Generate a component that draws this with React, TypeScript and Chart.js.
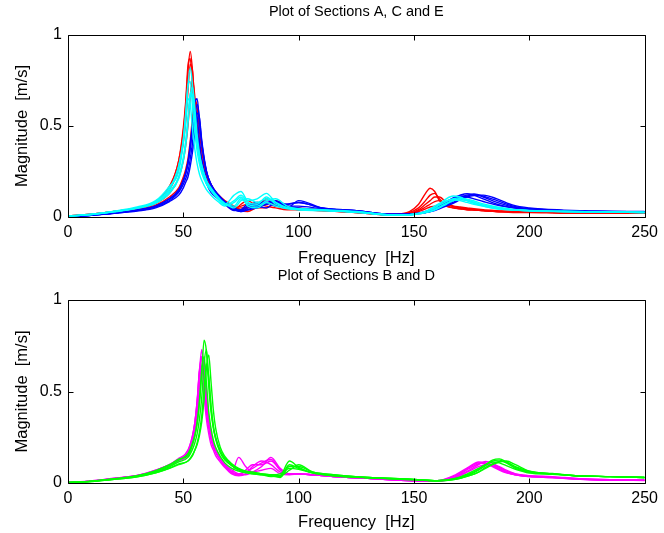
import React, { useEffect, useRef } from "react";
import { Chart, registerables } from "chart.js";

Chart.register(...registerables);

const FONT = '"Liberation Sans", Arial, Helvetica, sans-serif';

// ---------- Top plot: frequency grid (Hz) ----------
const freqTop = [0, 10, 20, 30, 38, 44, 48, 50, 51, 52, 53, 54, 55, 56, 57, 58, 60, 62, 65, 68, 72, 75, 78, 82, 86, 90, 95, 100, 110, 125, 140, 148, 152, 155, 157, 159, 161, 164, 167, 170, 173, 176, 180, 186, 193, 200, 215, 230, 250];

// Section A (red)
const sectionA1 = [0.005, 0.015, 0.03, 0.05, 0.08, 0.16, 0.31, 0.47, 0.61, 0.80, 0.91, 0.80, 0.61, 0.47, 0.37, 0.31, 0.23, 0.18, 0.12, 0.08, 0.05, 0.06, 0.07, 0.05, 0.08, 0.06, 0.05, 0.045, 0.04, 0.03, 0.015, 0.03, 0.07, 0.13, 0.158, 0.14, 0.09, 0.06, 0.05, 0.045, 0.04, 0.04, 0.035, 0.03, 0.03, 0.03, 0.025, 0.025, 0.02];
const sectionA2 = [0.005, 0.015, 0.03, 0.05, 0.085, 0.17, 0.31, 0.49, 0.63, 0.83, 0.87, 0.71, 0.54, 0.42, 0.34, 0.28, 0.21, 0.16, 0.11, 0.07, 0.04, 0.07, 0.09, 0.06, 0.10, 0.07, 0.05, 0.04, 0.035, 0.025, 0.012, 0.025, 0.05, 0.09, 0.12, 0.13, 0.10, 0.065, 0.05, 0.045, 0.04, 0.038, 0.035, 0.03, 0.028, 0.028, 0.025, 0.022, 0.02];
const sectionA3 = [0.004, 0.012, 0.025, 0.04, 0.065, 0.11, 0.16, 0.22, 0.26, 0.32, 0.42, 0.55, 0.65, 0.60, 0.47, 0.36, 0.23, 0.17, 0.12, 0.085, 0.05, 0.04, 0.06, 0.08, 0.07, 0.09, 0.06, 0.05, 0.04, 0.03, 0.015, 0.02, 0.04, 0.07, 0.09, 0.11, 0.11, 0.08, 0.06, 0.05, 0.045, 0.04, 0.035, 0.03, 0.03, 0.03, 0.025, 0.025, 0.02];
const sectionA4 = [0.005, 0.014, 0.028, 0.045, 0.075, 0.13, 0.215, 0.31, 0.39, 0.50, 0.66, 0.75, 0.66, 0.50, 0.39, 0.31, 0.215, 0.165, 0.12, 0.08, 0.045, 0.05, 0.05, 0.07, 0.06, 0.05, 0.04, 0.04, 0.035, 0.025, 0.012, 0.02, 0.035, 0.055, 0.07, 0.085, 0.09, 0.075, 0.055, 0.05, 0.045, 0.04, 0.035, 0.03, 0.025, 0.025, 0.02, 0.02, 0.02];
const sectionA5 = [0.005, 0.015, 0.03, 0.05, 0.08, 0.15, 0.27, 0.41, 0.52, 0.69, 0.84, 0.80, 0.61, 0.47, 0.37, 0.30, 0.22, 0.17, 0.125, 0.09, 0.06, 0.035, 0.03, 0.05, 0.05, 0.08, 0.05, 0.04, 0.035, 0.025, 0.01, 0.02, 0.03, 0.045, 0.055, 0.06, 0.065, 0.07, 0.06, 0.055, 0.05, 0.045, 0.04, 0.035, 0.03, 0.03, 0.025, 0.02, 0.02];

// Section C (blue)
const sectionC1 = [0.004, 0.01, 0.022, 0.038, 0.06, 0.10, 0.15, 0.20, 0.24, 0.30, 0.38, 0.49, 0.63, 0.65, 0.52, 0.40, 0.25, 0.18, 0.125, 0.085, 0.04, 0.03, 0.05, 0.07, 0.08, 0.06, 0.07, 0.08, 0.05, 0.035, 0.015, 0.015, 0.02, 0.03, 0.04, 0.05, 0.065, 0.085, 0.105, 0.12, 0.128, 0.12, 0.10, 0.07, 0.05, 0.04, 0.035, 0.03, 0.028];
const sectionC2 = [0.004, 0.01, 0.022, 0.038, 0.06, 0.10, 0.145, 0.20, 0.24, 0.29, 0.38, 0.50, 0.59, 0.55, 0.42, 0.32, 0.21, 0.15, 0.11, 0.075, 0.04, 0.035, 0.06, 0.08, 0.07, 0.09, 0.06, 0.06, 0.045, 0.03, 0.012, 0.012, 0.018, 0.025, 0.032, 0.04, 0.05, 0.07, 0.09, 0.11, 0.12, 0.125, 0.11, 0.08, 0.055, 0.045, 0.035, 0.03, 0.028];
const sectionC3 = [0.003, 0.01, 0.02, 0.035, 0.055, 0.09, 0.135, 0.18, 0.21, 0.25, 0.32, 0.41, 0.54, 0.62, 0.54, 0.41, 0.25, 0.18, 0.12, 0.085, 0.05, 0.03, 0.04, 0.06, 0.09, 0.07, 0.05, 0.09, 0.05, 0.035, 0.015, 0.015, 0.02, 0.025, 0.03, 0.038, 0.05, 0.065, 0.08, 0.10, 0.115, 0.125, 0.115, 0.09, 0.06, 0.045, 0.035, 0.03, 0.028];
const sectionC4 = [0.004, 0.01, 0.022, 0.038, 0.06, 0.10, 0.14, 0.20, 0.24, 0.30, 0.40, 0.51, 0.555, 0.46, 0.35, 0.27, 0.185, 0.135, 0.10, 0.07, 0.035, 0.04, 0.07, 0.06, 0.05, 0.08, 0.06, 0.05, 0.04, 0.03, 0.012, 0.015, 0.022, 0.03, 0.04, 0.05, 0.06, 0.08, 0.10, 0.115, 0.11, 0.10, 0.085, 0.065, 0.05, 0.04, 0.033, 0.03, 0.027];
const sectionC5 = [0.003, 0.009, 0.02, 0.033, 0.05, 0.085, 0.12, 0.16, 0.19, 0.22, 0.28, 0.36, 0.47, 0.57, 0.545, 0.42, 0.255, 0.175, 0.115, 0.08, 0.05, 0.035, 0.04, 0.05, 0.07, 0.085, 0.07, 0.08, 0.05, 0.035, 0.015, 0.015, 0.02, 0.025, 0.03, 0.035, 0.045, 0.06, 0.075, 0.095, 0.11, 0.118, 0.12, 0.10, 0.065, 0.05, 0.038, 0.032, 0.03];

// Section E (cyan)
const sectionE1 = [0.005, 0.014, 0.03, 0.05, 0.08, 0.15, 0.28, 0.42, 0.55, 0.72, 0.82, 0.72, 0.55, 0.42, 0.34, 0.28, 0.20, 0.16, 0.11, 0.07, 0.12, 0.14, 0.09, 0.10, 0.13, 0.08, 0.05, 0.045, 0.04, 0.03, 0.012, 0.012, 0.02, 0.03, 0.04, 0.05, 0.07, 0.10, 0.115, 0.11, 0.09, 0.075, 0.06, 0.045, 0.04, 0.035, 0.03, 0.028, 0.025];
const sectionE2 = [0.005, 0.015, 0.03, 0.05, 0.085, 0.16, 0.28, 0.43, 0.57, 0.72, 0.745, 0.60, 0.46, 0.36, 0.29, 0.24, 0.18, 0.145, 0.10, 0.065, 0.09, 0.12, 0.08, 0.07, 0.11, 0.07, 0.05, 0.04, 0.035, 0.028, 0.012, 0.012, 0.02, 0.03, 0.04, 0.05, 0.065, 0.085, 0.10, 0.105, 0.095, 0.08, 0.065, 0.05, 0.04, 0.035, 0.03, 0.028, 0.025];
const sectionE3 = [0.005, 0.014, 0.03, 0.05, 0.08, 0.14, 0.22, 0.33, 0.42, 0.55, 0.685, 0.665, 0.525, 0.40, 0.315, 0.255, 0.185, 0.145, 0.10, 0.07, 0.06, 0.10, 0.07, 0.06, 0.09, 0.10, 0.06, 0.045, 0.038, 0.028, 0.012, 0.012, 0.018, 0.025, 0.032, 0.04, 0.055, 0.075, 0.09, 0.095, 0.09, 0.08, 0.065, 0.05, 0.04, 0.035, 0.03, 0.028, 0.025];
const sectionE4 = [0.005, 0.015, 0.032, 0.055, 0.09, 0.17, 0.25, 0.41, 0.53, 0.65, 0.62, 0.48, 0.37, 0.29, 0.235, 0.20, 0.15, 0.12, 0.085, 0.06, 0.08, 0.11, 0.06, 0.05, 0.08, 0.06, 0.045, 0.04, 0.035, 0.025, 0.01, 0.012, 0.02, 0.03, 0.045, 0.06, 0.075, 0.09, 0.095, 0.09, 0.08, 0.07, 0.06, 0.045, 0.038, 0.033, 0.03, 0.028, 0.025];
const sectionE5 = [0.004, 0.013, 0.028, 0.048, 0.075, 0.13, 0.21, 0.31, 0.39, 0.51, 0.66, 0.715, 0.60, 0.45, 0.35, 0.285, 0.20, 0.155, 0.11, 0.075, 0.05, 0.09, 0.10, 0.08, 0.10, 0.08, 0.05, 0.045, 0.038, 0.028, 0.012, 0.012, 0.017, 0.024, 0.03, 0.038, 0.05, 0.07, 0.09, 0.10, 0.098, 0.088, 0.072, 0.055, 0.042, 0.036, 0.03, 0.028, 0.026];

// ---------- Bottom plot: frequency grid (Hz) ----------
const freqBottom = [0, 10, 20, 30, 38, 44, 48, 52, 54, 55, 56, 57, 58, 59, 60, 61, 62, 63, 64, 66, 68, 71, 74, 77, 80, 84, 88, 92, 96, 100, 106, 115, 130, 150, 160, 168, 174, 178, 181, 184, 187, 190, 194, 200, 210, 220, 235, 250];

// Section B (magenta)
const sectionB1 = [0.003, 0.01, 0.025, 0.04, 0.07, 0.10, 0.13, 0.18, 0.26, 0.33, 0.44, 0.61, 0.73, 0.61, 0.44, 0.33, 0.26, 0.21, 0.18, 0.135, 0.10, 0.06, 0.14, 0.09, 0.06, 0.07, 0.08, 0.05, 0.045, 0.05, 0.045, 0.035, 0.025, 0.012, 0.01, 0.03, 0.07, 0.10, 0.118, 0.11, 0.085, 0.065, 0.05, 0.04, 0.035, 0.025, 0.015, 0.015];
const sectionB2 = [0.003, 0.01, 0.024, 0.04, 0.065, 0.095, 0.125, 0.16, 0.23, 0.29, 0.38, 0.53, 0.69, 0.63, 0.46, 0.34, 0.26, 0.21, 0.18, 0.135, 0.10, 0.06, 0.05, 0.06, 0.08, 0.11, 0.13, 0.07, 0.05, 0.05, 0.045, 0.035, 0.025, 0.012, 0.01, 0.035, 0.08, 0.105, 0.11, 0.10, 0.08, 0.06, 0.045, 0.035, 0.03, 0.022, 0.015, 0.015];
const sectionB3 = [0.003, 0.011, 0.026, 0.042, 0.07, 0.10, 0.135, 0.17, 0.25, 0.33, 0.45, 0.61, 0.64, 0.48, 0.35, 0.27, 0.21, 0.18, 0.15, 0.115, 0.085, 0.05, 0.04, 0.05, 0.09, 0.12, 0.10, 0.06, 0.05, 0.05, 0.045, 0.035, 0.025, 0.012, 0.012, 0.04, 0.085, 0.11, 0.105, 0.09, 0.07, 0.055, 0.045, 0.035, 0.03, 0.022, 0.018, 0.015];
const sectionB4 = [0.003, 0.01, 0.024, 0.04, 0.065, 0.095, 0.12, 0.15, 0.21, 0.26, 0.34, 0.465, 0.63, 0.66, 0.50, 0.36, 0.275, 0.22, 0.18, 0.135, 0.105, 0.07, 0.05, 0.045, 0.06, 0.09, 0.14, 0.08, 0.05, 0.05, 0.045, 0.035, 0.025, 0.012, 0.01, 0.03, 0.065, 0.09, 0.10, 0.10, 0.09, 0.07, 0.05, 0.04, 0.032, 0.025, 0.018, 0.016];
const sectionB5 = [0.003, 0.01, 0.025, 0.041, 0.068, 0.10, 0.13, 0.175, 0.26, 0.33, 0.45, 0.62, 0.69, 0.55, 0.39, 0.30, 0.235, 0.195, 0.165, 0.125, 0.09, 0.055, 0.045, 0.07, 0.10, 0.10, 0.12, 0.075, 0.05, 0.05, 0.045, 0.035, 0.025, 0.012, 0.012, 0.045, 0.09, 0.115, 0.11, 0.095, 0.075, 0.058, 0.045, 0.036, 0.03, 0.022, 0.016, 0.014];

// Section D (green)
const sectionD1 = [0.003, 0.01, 0.022, 0.038, 0.065, 0.095, 0.125, 0.16, 0.22, 0.26, 0.33, 0.44, 0.60, 0.78, 0.72, 0.53, 0.39, 0.30, 0.245, 0.175, 0.135, 0.095, 0.07, 0.06, 0.05, 0.045, 0.04, 0.035, 0.10, 0.08, 0.055, 0.04, 0.03, 0.018, 0.012, 0.025, 0.05, 0.075, 0.10, 0.125, 0.132, 0.115, 0.085, 0.06, 0.05, 0.04, 0.035, 0.03];
const sectionD2 = [0.002, 0.008, 0.02, 0.034, 0.055, 0.08, 0.10, 0.12, 0.15, 0.18, 0.21, 0.26, 0.335, 0.455, 0.625, 0.70, 0.555, 0.40, 0.30, 0.195, 0.145, 0.105, 0.08, 0.065, 0.06, 0.05, 0.045, 0.04, 0.07, 0.10, 0.06, 0.045, 0.03, 0.02, 0.012, 0.02, 0.04, 0.06, 0.08, 0.10, 0.115, 0.12, 0.10, 0.065, 0.05, 0.04, 0.035, 0.03];
const sectionD3 = [0.003, 0.009, 0.021, 0.036, 0.06, 0.088, 0.115, 0.14, 0.185, 0.22, 0.27, 0.35, 0.47, 0.65, 0.73, 0.58, 0.42, 0.31, 0.25, 0.175, 0.135, 0.10, 0.075, 0.065, 0.055, 0.05, 0.04, 0.03, 0.09, 0.09, 0.06, 0.045, 0.03, 0.02, 0.012, 0.022, 0.045, 0.07, 0.095, 0.12, 0.125, 0.11, 0.08, 0.06, 0.052, 0.04, 0.035, 0.03];
const sectionD4 = [0.003, 0.01, 0.023, 0.04, 0.068, 0.10, 0.13, 0.15, 0.21, 0.26, 0.33, 0.45, 0.62, 0.69, 0.55, 0.39, 0.30, 0.235, 0.195, 0.145, 0.11, 0.08, 0.065, 0.055, 0.05, 0.045, 0.035, 0.04, 0.12, 0.085, 0.055, 0.04, 0.028, 0.018, 0.012, 0.025, 0.055, 0.08, 0.10, 0.115, 0.11, 0.095, 0.075, 0.055, 0.048, 0.04, 0.035, 0.03];
const sectionD5 = [0.002, 0.008, 0.02, 0.034, 0.056, 0.082, 0.105, 0.12, 0.155, 0.18, 0.22, 0.28, 0.37, 0.515, 0.65, 0.58, 0.42, 0.31, 0.24, 0.165, 0.125, 0.095, 0.075, 0.06, 0.055, 0.05, 0.045, 0.05, 0.08, 0.075, 0.055, 0.042, 0.03, 0.02, 0.012, 0.02, 0.04, 0.06, 0.085, 0.105, 0.118, 0.115, 0.09, 0.065, 0.05, 0.04, 0.035, 0.03];

const xTicks = [0, 50, 100, 150, 200, 250];
const yTicks = [0, 0.5, 1];

const titleTop = "Plot of Sections A, C and E";
const titleBottom = "Plot of Sections B and D";
const xAxisLabel = "Frequency  [Hz]";
const yAxisLabel = "Magnitude  [m/s]";

type Series = { values: number[]; color: string };

function framePlugin(title: string, titleY: number, xLabelY: number) {
  return {
    id: "matlabFrame",
    afterDraw(chart: any) {
      const { ctx, chartArea: a, scales } = chart;
      const L = Math.round(a.left) + 0.5;
      const R = Math.round(a.right) + 0.5;
      const T = Math.round(a.top) + 0.5;
      const B = Math.round(a.bottom) + 0.5;
      ctx.save();
      ctx.strokeStyle = "#000";
      ctx.lineWidth = 1;
      ctx.beginPath();
      ctx.rect(L, T, R - L, B - T);
      const tl = 5;
      for (const v of xTicks) {
        const px = Math.round(scales.x.getPixelForValue(v)) + 0.5;
        ctx.moveTo(px, B);
        ctx.lineTo(px, B - tl);
        ctx.moveTo(px, T);
        ctx.lineTo(px, T + tl);
      }
      for (const v of yTicks) {
        const py = Math.round(scales.y.getPixelForValue(v)) + 0.5;
        ctx.moveTo(L, py);
        ctx.lineTo(L + tl, py);
        ctx.moveTo(R, py);
        ctx.lineTo(R - tl, py);
      }
      ctx.stroke();

      ctx.fillStyle = "#000";
      ctx.textAlign = "center";
      ctx.textBaseline = "middle";
      const cx = (a.left + a.right) / 2;
      ctx.font = `14.5px ${FONT}`;
      ctx.fillText(title, cx, titleY);
      ctx.font = `16.5px ${FONT}`;
      ctx.fillText(xAxisLabel, cx, xLabelY);
      ctx.translate(22, (a.top + a.bottom) / 2);
      ctx.rotate(-Math.PI / 2);
      ctx.fillText(yAxisLabel, 0, 0);
      ctx.restore();
    },
  };
}

function buildConfig(
  freqs: number[],
  series: Series[],
  padTop: number,
  xHeight: number,
  title: string,
  titleY: number,
  xLabelY: number
): any {
  return {
    type: "line",
    data: {
      datasets: series.map((s) => ({
        data: freqs.map((f, i) => ({ x: f, y: s.values[i] })),
        borderColor: s.color,
        backgroundColor: s.color,
        borderWidth: 1.4,
        pointRadius: 0,
        fill: false,
        cubicInterpolationMode: "monotone",
      })),
    },
    options: {
      responsive: false,
      maintainAspectRatio: false,
      animation: false,
      devicePixelRatio: 1,
      layout: { padding: { top: padTop, right: 17, left: 0, bottom: 0 } },
      plugins: {
        legend: { display: false },
        tooltip: { enabled: false },
        title: { display: false },
      },
      scales: {
        x: {
          type: "linear",
          min: 0,
          max: 250,
          afterFit: (s: any) => {
            s.height = xHeight;
          },
          grid: { display: false, drawTicks: false },
          border: { display: false },
          ticks: {
            stepSize: 50,
            autoSkip: false,
            maxRotation: 0,
            padding: 6,
            color: "#000",
            font: { family: FONT, size: 16 },
            callback: (v: any) => String(v),
          },
        },
        y: {
          type: "linear",
          min: 0,
          max: 1,
          afterFit: (s: any) => {
            s.width = 68;
          },
          grid: { display: false, drawTicks: false },
          border: { display: false },
          ticks: {
            stepSize: 0.5,
            padding: 6,
            color: "#000",
            font: { family: FONT, size: 16 },
            callback: (v: any) => String(v),
          },
        },
      },
    },
    plugins: [framePlugin(title, titleY, xLabelY)],
  };
}

function Plot({ top, height, makeConfig }: { top: number; height: number; makeConfig: () => any }) {
  const ref = useRef<HTMLCanvasElement | null>(null);
  useEffect(() => {
    if (!ref.current) return;
    const chart = new Chart(ref.current, makeConfig());
    return () => chart.destroy();
  }, []);
  return (
    <canvas
      ref={ref}
      width={664}
      height={height}
      style={{ position: "absolute", left: 0, top, width: 664, height }}
    />
  );
}

// Later entries are drawn underneath (Chart.js draws dataset 0 on top)
const topSeries: Series[] = [
  ...[sectionE1, sectionE2, sectionE3, sectionE4, sectionE5].map((v) => ({ values: v, color: "#00FFFF" })),
  ...[sectionC1, sectionC2, sectionC3, sectionC4, sectionC5].map((v) => ({ values: v, color: "#0000FF" })),
  ...[sectionA1, sectionA2, sectionA3, sectionA4, sectionA5].map((v) => ({ values: v, color: "#FF0000" })),
];

const bottomSeries: Series[] = [
  ...[sectionD1, sectionD2, sectionD3, sectionD4, sectionD5].map((v) => ({ values: v, color: "#00FF00" })),
  ...[sectionB1, sectionB2, sectionB3, sectionB4, sectionB5].map((v) => ({ values: v, color: "#FF00FF" })),
];

export default function App() {
  return (
    <div style={{ position: "absolute", left: 0, top: 0, width: 664, height: 533, background: "#fff" }}>
      <Plot
        top={0}
        height={266}
        makeConfig={() => buildConfig(freqTop, topSeries, 35, 266 - 217, titleTop, 12, 258)}
      />
      <Plot
        top={266}
        height={267}
        makeConfig={() => buildConfig(freqBottom, bottomSeries, 34, 267 - 217, titleBottom, 10, 256)}
      />
    </div>
  );
}
